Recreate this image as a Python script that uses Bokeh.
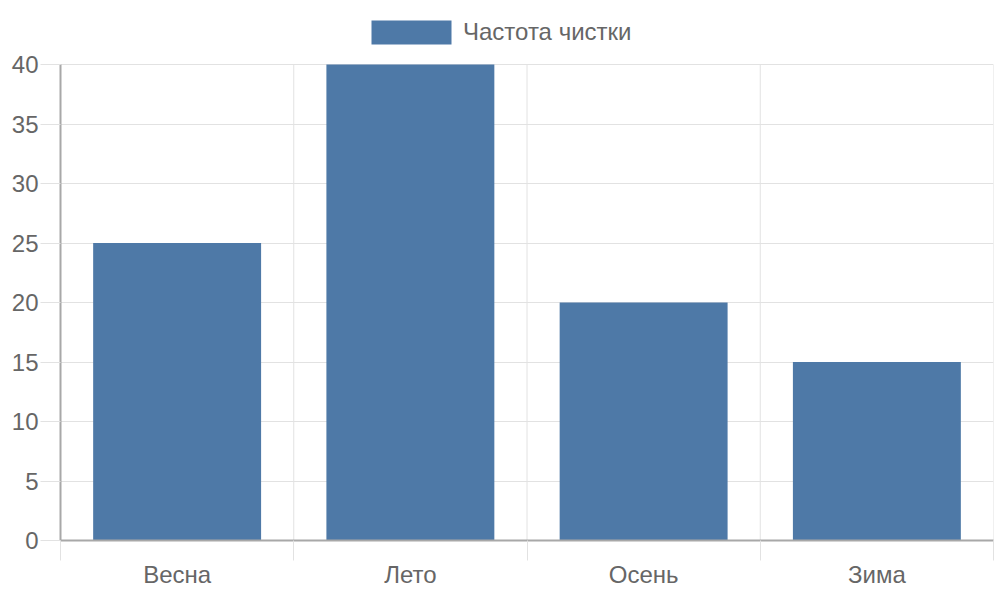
from bokeh.plotting import figure
from bokeh.models import FixedTicker, Legend, LegendItem, Range1d
from bokeh.embed import file_html
from bokeh.resources import INLINE

categories = ["Весна", "Лето", "Осень", "Зима"]
values = [25, 40, 20, 15]
series_name = "Частота чистки"
y_ticks = [0, 5, 10, 15, 20, 25, 30, 35, 40]

FONT = "Liberation Sans"
TXT = "#666666"
GRID = "#e2e2e2"
AXIS = "#a8a8a8"
BAR = "#4e79a7"

n = len(categories)
centers = [i + 0.5 for i in range(n)]
bounds = list(range(n + 1))
y_max = y_ticks[-1]

# frame spans full height above the axis; the space above y_max holds the legend
FRAME_TOP_PAD = 64      # px between top of frame and y_max line
PLOT_H = 476            # px for 0..y_max
y_top = y_max + FRAME_TOP_PAD * y_max / PLOT_H

p = figure(width=994, height=600, output_backend="svg", toolbar_location=None,
           x_range=Range1d(0, n), y_range=Range1d(0, y_top),
           min_border_left=60, min_border_right=1, min_border_top=0, min_border_bottom=60)
p.outline_line_color = None

# vertical grid lines at category boundaries (limited to 0..y_max)
p.segment(x0=bounds, y0=[0] * len(bounds), x1=bounds, y1=[y_max] * len(bounds),
          line_color=GRID, line_width=1)

r = p.vbar(x=centers, top=values, width=0.72, fill_color=BAR, line_color=None)

# x axis
p.xaxis.ticker = FixedTicker(ticks=centers, minor_ticks=bounds)
p.xaxis.major_label_overrides = {c: name for c, name in zip(centers, categories)}
p.xaxis.major_tick_out = 0
p.xaxis.major_tick_in = 0
p.xaxis.minor_tick_out = 20
p.xaxis.minor_tick_in = 0
p.xaxis.minor_tick_line_color = GRID
p.xaxis.major_label_standoff = 0
p.xaxis.axis_line_color = AXIS
p.xaxis.axis_line_width = 2
p.xgrid.grid_line_color = None

# y axis
p.yaxis.ticker = FixedTicker(ticks=y_ticks)
p.yaxis.bounds = (0, y_max)
p.yaxis.major_tick_out = 20
p.yaxis.major_tick_in = 0
p.yaxis.major_tick_line_color = GRID
p.yaxis.minor_tick_line_color = None
p.yaxis.major_label_standoff = 2
p.yaxis.axis_line_color = AXIS
p.yaxis.axis_line_width = 2
p.ygrid.ticker = FixedTicker(ticks=y_ticks)
p.ygrid.grid_line_color = GRID

for ax in (p.xaxis, p.yaxis):
    ax.major_label_text_font = FONT
    ax.major_label_text_font_size = "24px"
    ax.major_label_text_color = TXT

legend = Legend(items=[LegendItem(label=series_name, renderers=[r])],
                orientation="horizontal", location=(301, 493),
                glyph_width=100, glyph_height=30, label_text_font=FONT,
                label_text_font_size="24px", label_text_color=TXT,
                border_line_color=None, background_fill_alpha=0,
                padding=0, margin=0, spacing=0, label_standoff=2)
p.add_layout(legend)

open("out.html", "w").write(file_html(p, INLINE))
